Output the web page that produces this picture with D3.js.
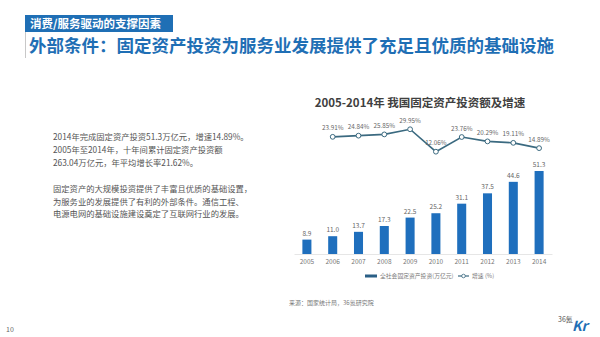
<!DOCTYPE html>
<html><head><meta charset="utf-8">
<script src="https://cdn.jsdelivr.net/npm/d3@7/dist/d3.min.js"></script>
<style>
html,body{margin:0;padding:0;background:#fff;}
svg{display:block;font-family:"Noto Sans CJK SC","Noto Sans",sans-serif;}
</style></head>
<body>
<svg id="c" width="600" height="337"></svg>
<script>
const years = ["2005","2006","2007","2008","2009","2010","2011","2012","2013","2014"];
const invest = [8.9, 11.0, 13.7, 17.3, 22.5, 25.2, 31.1, 37.5, 44.6, 51.3];
const growthYears = ["2006","2007","2008","2009","2010","2011","2012","2013","2014"];
const growth = [23.91, 24.84, 25.85, 29.95, 12.06, 23.76, 20.29, 19.11, 14.89];
const tagText = "消费/服务驱动的支撑因素";
const titleText = "外部条件：固定资产投资为服务业发展提供了充足且优质的基础设施";
const para1 = ["2014年完成固定资产投资51.3万亿元，增速14.89%。","2005年至2014年，十年间累计固定资产投资额","263.04万亿元，年平均增长率21.62%。"];
const para2 = ["固定资产的大规模投资提供了丰富且优质的基础设置，","为服务业的发展提供了有利的外部条件。通信工程、","电源电网的基础设施建设奠定了互联网行业的发展。"];
const chartTitle = "2005-2014年  我国固定资产投资额及增速";
const legendLabels = ["全社会固定资产投资(万亿元)", "增速 (%)"];
const sourceText = "来源：国家统计局，36氪研究院";

const svg = d3.select("#c");
const blue = "#1f6fbd";
const lineCol = "#3b6a80";

// header tag
svg.append("rect").attr("x",25).attr("y",15).attr("width",148).attr("height",17).attr("fill","#1f6fb5");
svg.append("text").attr("x",30).attr("y",27.5).attr("fill","#fff").attr("font-size",11.5).attr("font-weight","bold").text(tagText);
svg.append("line").attr("x1",25.5).attr("x2",25.5).attr("y1",32).attr("y2",58).attr("stroke","#c8c8c8").attr("stroke-width",1);
svg.append("text").attr("x",29).attr("y",51.5).attr("fill","#1f6fb5").attr("font-size",17.5).attr("font-weight","bold").text(titleText);

// paragraphs
const pg = svg.append("g").attr("fill","#555").attr("font-size",8.3);
para1.forEach((t,i)=>pg.append("text").attr("x",53).attr("y",140+i*13.2).text(t));
para2.forEach((t,i)=>pg.append("text").attr("x",53).attr("y",192+i*12.5).text(t));

// chart title
svg.append("text").attr("x",420).attr("y",107).attr("text-anchor","middle").attr("fill","#404040")
  .attr("font-size",11.5).attr("font-weight","bold").text(chartTitle);

// scales
const x = d3.scaleBand().domain(years).range([294,552]).paddingInner(0.65).paddingOuter(0.325);
const yBar = d3.scaleLinear().domain([0,60]).range([254, 254-60*1.618]);
const yLine = d3.scaleLinear().domain([0,30]).range([166.8,129.2]);
const cx = d => x(d) + x.bandwidth()/2;

// bars
svg.append("g").selectAll("rect").data(years).join("rect")
  .attr("x", d=>x(d)).attr("width", x.bandwidth())
  .attr("y", (d,i)=>yBar(invest[i])).attr("height",(d,i)=>yBar(0)-yBar(invest[i]))
  .attr("fill", blue);
svg.append("g").selectAll("text").data(years).join("text")
  .attr("x", d=>cx(d)).attr("y",(d,i)=>yBar(invest[i])-4)
  .attr("text-anchor","middle").attr("font-size",6.5).attr("fill","#666")
  .text((d,i)=>invest[i].toFixed(1));

// axis
const ax = svg.append("g").attr("transform","translate(0,254)")
  .call(d3.axisBottom(x).tickSize(0).tickPadding(5));
ax.select(".domain").attr("stroke","#e6e6e6");
ax.selectAll("text").attr("font-size",6.5).attr("fill","#777").attr("font-family","\"Noto Sans CJK SC\",sans-serif");

// line
const line = d3.line().x((d,i)=>cx(growthYears[i])).y(d=>yLine(d));
svg.append("path").datum(growth).attr("d",line).attr("fill","none").attr("stroke",lineCol).attr("stroke-width",1.6);
svg.append("g").selectAll("circle").data(growth).join("circle")
  .attr("cx",(d,i)=>cx(growthYears[i])).attr("cy",d=>yLine(d)).attr("r",2.4)
  .attr("fill","#fff").attr("stroke",lineCol).attr("stroke-width",1);
svg.append("g").selectAll("text").data(growth).join("text")
  .attr("x",(d,i)=>cx(growthYears[i])).attr("y",d=>yLine(d)-6.5)
  .attr("text-anchor","middle").attr("font-size",6.3).attr("fill","#666")
  .text(d=>d.toFixed(2)+"%");

// legend
const lg = svg.append("g").attr("font-size",5.8).attr("fill","#777");
lg.append("rect").attr("x",365).attr("y",274.5).attr("width",12).attr("height",3).attr("fill","#2a5f86");
lg.append("text").attr("x",380).attr("y",278.3).text(legendLabels[0]);
lg.append("line").attr("x1",458).attr("x2",469).attr("y1",276).attr("y2",276).attr("stroke",lineCol).attr("stroke-width",1.2);
lg.append("circle").attr("cx",463.5).attr("cy",276).attr("r",1.8).attr("fill","#fff").attr("stroke",lineCol).attr("stroke-width",0.8);
lg.append("text").attr("x",472).attr("y",278.3).text(legendLabels[1]);

// source
svg.append("text").attr("x",289).attr("y",304.5).attr("font-size",6).attr("fill","#777").text(sourceText);

// page number
svg.append("text").attr("x",6).attr("y",332).attr("font-size",7).attr("fill","#666").text("10");

// logo
svg.append("text").attr("x",558).attr("y",322).attr("font-size",7).attr("fill","#555").text("36氪");
svg.append("text").attr("x",572).attr("y",331).attr("font-size",14).attr("font-weight","bold").attr("font-style","italic").attr("fill","#1f6fb5").text("Kr");
</script>
</body></html>
